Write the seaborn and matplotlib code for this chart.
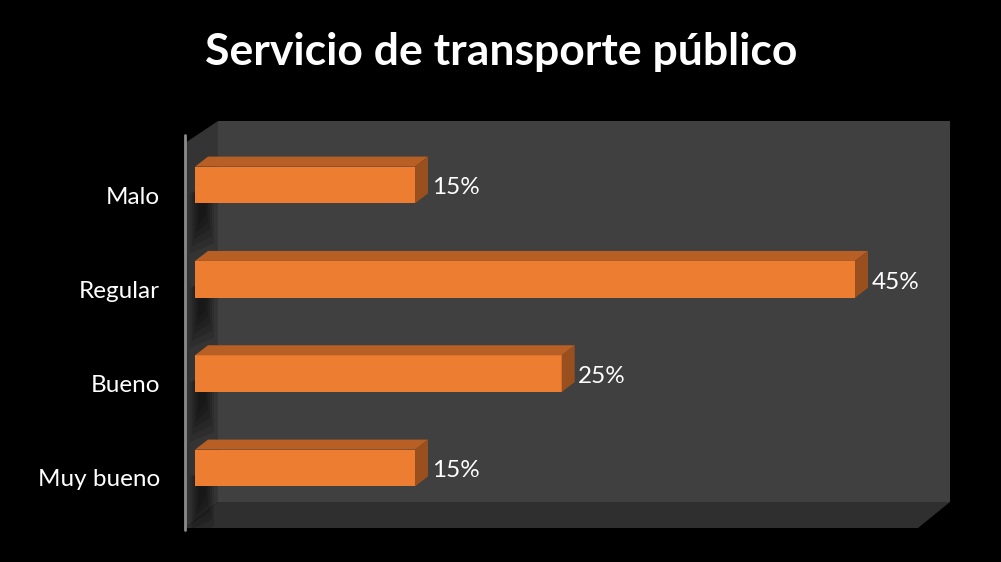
import matplotlib
matplotlib.use('Agg')
import matplotlib.pyplot as plt
from matplotlib.patches import Polygon, Rectangle
from matplotlib.transforms import ScaledTranslation
import seaborn as sns
import pandas as pd

# datos
categorias = ['Malo', 'Regular', 'Bueno', 'Muy bueno']
valores = [15, 45, 25, 15]
etiquetas = ['15%', '45%', '25%', '15%']
titulo = 'Servicio de transporte público'

df = pd.DataFrame({'Categoria': categorias, 'Valor': valores})

sns.set_style('dark')
plt.rcParams['font.family'] = ['Lato', 'DejaVu Sans']

W, H = 1001, 562
fig = plt.figure(figsize=(W / 100, H / 100), dpi=100, facecolor='black')

def fx(px):
    return px / W

def fy(py):
    return 1 - py / H

# the plot area (pixels): x 185..950, y 121..528
ax = fig.add_axes([fx(185), fy(528), fx(950) - fx(185), fy(121) - fy(528)])
ax.set_facecolor('none')

sns.barplot(data=df, x='Valor', y='Categoria', orient='h', color='#ED7D31',
            width=0.39, saturation=1, ax=ax, zorder=3, edgecolor='none', linewidth=0)

# scale: 0 -> px 195, 1 unit = 14.667 px ; category 0 -> px 185, 1 unit = 94.33 px
sx, sy = 14.667, 94.33
ax.set_xlim((185 - 195) / sx, (950 - 195) / sx)
ax.set_ylim((528 - 185) / sy, (121 - 185) / sy)

# 3d walls (figure coords)
def poly(pts, color, z=0, alpha=1):
    p = Polygon([(fx(a), fy(b)) for a, b in pts], closed=True, facecolor=color,
                edgecolor='none', transform=fig.transFigure, zorder=z, alpha=alpha,
                clip_on=False)
    ax.add_patch(p)

bars = [p for p in ax.patches if isinstance(p, Rectangle) and p.get_width() > 0]

poly([(218, 121), (950, 121), (950, 502), (218, 502)], '#404040')
poly([(185, 528), (918, 528), (950, 502), (218, 502)], '#2f2f2f')
poly([(185, 143), (218, 121), (218, 502), (185, 528)], '#343434')
# soft shadows of bars on the side wall
for b in bars:
    yb = 185 + (b.get_y() + b.get_height()) * sy
    for k in range(5):
        poly([(190 + k * 2, yb - 10), (214 - k * 2, yb - 22),
              (214 - k * 2, yb + 40 - k * 7), (190 + k * 2, yb + 50 - k * 7)],
             'black', z=1, alpha=0.13)

ax.plot([fx(185), fx(185)], [fy(135), fy(530)], color='#8c8c8c', lw=2,
        transform=fig.transFigure, clip_on=False, zorder=2)

# 3d faces of the bars
dx, dy = 13 / sx, 10 / sy
for b, txt in zip(bars, etiquetas):
    x0, w = b.get_x(), b.get_width()
    yt, yb = b.get_y(), b.get_y() + b.get_height()
    ax.add_patch(Polygon([(x0, yt), (x0 + dx, yt - dy), (x0 + w + dx, yt - dy), (x0 + w, yt)],
                         facecolor='#B75F24', edgecolor='none', zorder=3))
    ax.add_patch(Polygon([(x0 + w, yt), (x0 + w + dx, yt - dy), (x0 + w + dx, yb - dy), (x0 + w, yb)],
                         facecolor='#9A501E', edgecolor='none', zorder=3))
    ax.text(x0 + w + dx + 0.25, (yt + yb) / 2 + 0.03, txt, color='white',
            fontsize=17.5, va='center', ha='left', zorder=4)

ax.set_xlabel('')
ax.set_ylabel('')
ax.set_xticks([])
ax.tick_params(axis='y', length=0, pad=18, labelsize=17.5, labelcolor='white')
shift = ScaledTranslation(0, -10 / 100, fig.dpi_scale_trans)
for lbl in ax.get_yticklabels():
    lbl.set_transform(lbl.get_transform() + shift)
for s in ax.spines.values():
    s.set_visible(False)
ax.grid(False)

fig.text(fx(501), fy(52), titulo, color='white', fontsize=32, fontweight='bold',
         ha='center', va='center')

fig.savefig('out.png', dpi=100, facecolor='black')
